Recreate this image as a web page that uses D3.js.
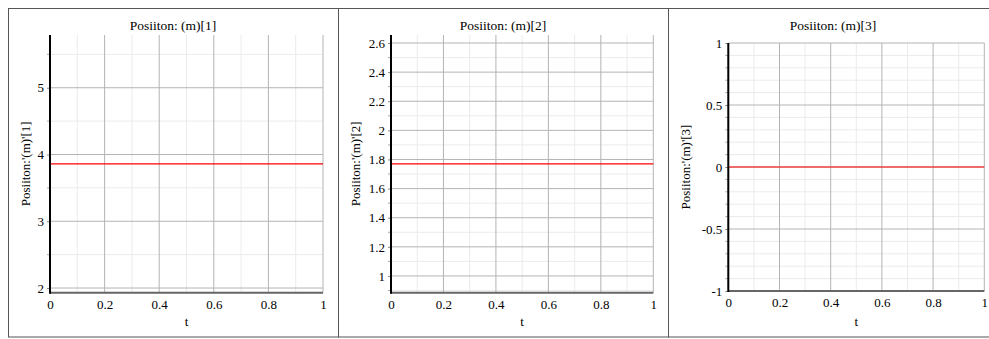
<!DOCTYPE html>
<html>
<head>
<meta charset="utf-8">
<script src="https://cdn.jsdelivr.net/npm/d3@7"></script>
<style>
  body { margin: 0; background: #fff; }
</style>
</head>
<body>
<div id="chart"></div>
<script>
// data
var titles = ["Posiiton: (m)[1]", "Posiiton: (m)[2]", "Posiiton: (m)[3]"];
var yLabels = ["Posiiton:'(m)'[1]", "Posiiton:'(m)'[2]", "Posiiton:'(m)'[3]"];
var tValues = [0, 1];
var pos1 = [3.86, 3.86];
var pos2 = [1.77, 1.77];
var pos3 = [0, 0];
var yDomain1 = [1.93, 5.79];
var yDomain2 = [0.885, 2.655];
var yDomain3 = [-1, 1];
var yTicks1 = [2, 3, 4, 5];
var yTicks2 = [1, 1.2, 1.4, 1.6, 1.8, 2, 2.2, 2.4, 2.6];
var yTicks3 = [-1, -0.5, 0, 0.5, 1];
var yMinorStep = [0.5, 0.1, 0.1];
var xTicks = [0, 0.2, 0.4, 0.6, 0.8, 1];
var xMinorTicks = [0.1, 0.3, 0.5, 0.7, 0.9];

var W = 989, H = 339;
var panelW = 330;
var serif = "'Liberation Serif', 'Times New Roman', Times, serif";
var fmt = d => String(+d.toFixed(4));   // plain hyphen for negatives

// layout per panel: plot box inside each panel
var boxes = [
    {left: 42, right: 315, top: 27, bottom: 284.7, labelX: 22},
    {left: 53, right: 315.3, top: 27, bottom: 284.7, labelX: 22},
    {left: 60.3, right: 316.3, top: 35, bottom: 283, labelX: 22}
];

var panels = [
    {values: pos1, domain: yDomain1, ticks: yTicks1},
    {values: pos2, domain: yDomain2, ticks: yTicks2},
    {values: pos3, domain: yDomain3, ticks: yTicks3}
];

var svg = d3.select("#chart").append("svg")
    .attr("width", W)
    .attr("height", H);

panels.forEach(function(p, i) {
    var b = boxes[i];
    var g = svg.append("g")
        .attr("transform", `translate(${8 + panelW * i}, 8)`);

    // panel frame
    g.append("rect")
        .attr("x", 0.5).attr("y", 0.5)
        .attr("width", panelW).attr("height", 328.5)
        .attr("fill", "none")
        .attr("stroke", "#555");

    var x = d3.scaleLinear().domain([0, 1]).range([b.left, b.right]);
    var y = d3.scaleLinear().domain(p.domain).range([b.bottom, b.top]);

    // minor y ticks
    var step = yMinorStep[i];
    var minorY = d3.range(Math.ceil(p.domain[0] / step) * step, p.domain[1] + 1e-9, step)
        .map(v => +v.toFixed(4))
        .filter(v => !p.ticks.some(t => Math.abs(t - v) < 1e-6));

    // grid
    g.append("g").selectAll("line")
        .data(minorY).enter().append("line")
        .attr("x1", b.left).attr("x2", b.right)
        .attr("y1", d => y(d)).attr("y2", d => y(d))
        .attr("stroke", "#ebebeb");
    g.append("g").selectAll("line")
        .data(xMinorTicks).enter().append("line")
        .attr("x1", d => x(d)).attr("x2", d => x(d))
        .attr("y1", b.top).attr("y2", b.bottom)
        .attr("stroke", "#ebebeb");
    g.append("g").selectAll("line")
        .data(p.ticks).enter().append("line")
        .attr("x1", b.left).attr("x2", b.right)
        .attr("y1", d => y(d)).attr("y2", d => y(d))
        .attr("stroke", "#b4b4b4");
    g.append("g").selectAll("line")
        .data(xTicks).enter().append("line")
        .attr("x1", d => x(d)).attr("x2", d => x(d))
        .attr("y1", b.top).attr("y2", b.bottom)
        .attr("stroke", "#b4b4b4");

    // data line
    var line = d3.line()
        .x((d, k) => x(tValues[k]))
        .y(d => y(d));
    g.append("path")
        .datum(p.values)
        .attr("d", line)
        .attr("fill", "none")
        .attr("stroke", "#ff0000")
        .attr("stroke-width", 1.2);

    // y axis
    var yAxis = d3.axisLeft(y).tickValues(p.ticks).tickSize(3).tickPadding(3)
        .tickFormat(fmt);
    var ya = g.append("g")
        .attr("transform", `translate(${b.left}, 0)`)
        .call(yAxis)
        .attr("font-family", serif)
        .attr("font-size", 13);
    ya.select(".domain").remove();
    ya.selectAll(".tick line").attr("stroke", "#888");
    g.append("g").selectAll("line")
        .data(minorY).enter().append("line")
        .attr("x1", b.left - 3).attr("x2", b.left)
        .attr("y1", d => y(d)).attr("y2", d => y(d))
        .attr("stroke", "#aaa");

    // x axis
    var xAxis = d3.axisBottom(x).tickValues(xTicks).tickSize(0).tickPadding(7)
        .tickFormat(fmt);
    var xa = g.append("g")
        .attr("transform", `translate(0, ${b.bottom})`)
        .call(xAxis)
        .attr("font-family", serif)
        .attr("font-size", 13);
    xa.select(".domain").remove();

    g.append("line")
        .attr("x1", b.left).attr("x2", b.right)
        .attr("y1", b.bottom).attr("y2", b.bottom)
        .attr("stroke", "#666").attr("stroke-width", 2);
    g.append("line")
        .attr("x1", b.left).attr("x2", b.left)
        .attr("y1", b.top).attr("y2", b.bottom + 1)
        .attr("stroke", "#000").attr("stroke-width", 2);

    // titles
    g.append("text")
        .attr("x", panelW / 2)
        .attr("y", 22)
        .attr("text-anchor", "middle")
        .attr("font-family", serif)
        .attr("font-size", 13.5)
        .text(titles[i]);

    g.append("text")
        .attr("transform", `translate(${b.labelX}, ${(b.top + b.bottom) / 2}) rotate(-90)`)
        .attr("text-anchor", "middle")
        .attr("font-family", serif)
        .attr("font-size", 13)
        .text(yLabels[i]);

    g.append("text")
        .attr("x", (b.left + b.right) / 2)
        .attr("y", 318)
        .attr("text-anchor", "middle")
        .attr("font-family", serif)
        .attr("font-size", 13)
        .text("t");
});
</script>
</body>
</html>
